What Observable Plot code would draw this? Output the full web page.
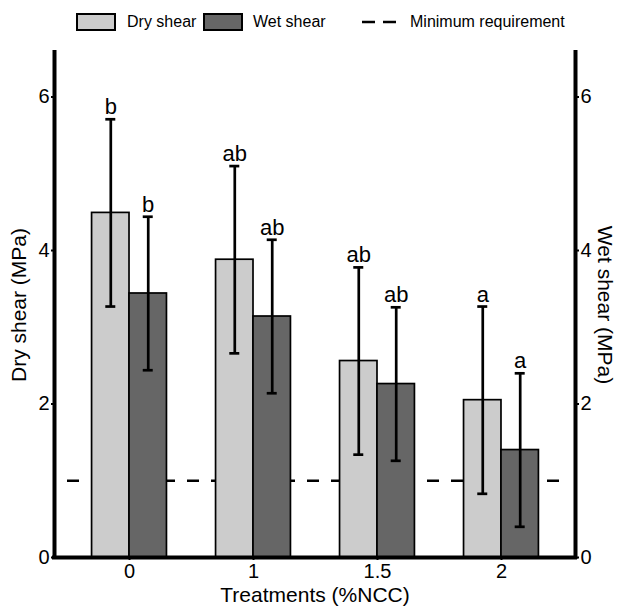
<!DOCTYPE html>
<html>
<head>
<meta charset="utf-8">
<script src="https://cdn.jsdelivr.net/npm/d3@7"></script>
<script src="https://cdn.jsdelivr.net/npm/@observablehq/plot@0.6"></script>
<style>
  html, body { margin: 0; padding: 0; background: white; overflow: hidden; }
  body { width: 624px; font-family: "Liberation Sans", Arial, sans-serif; }
  #legend { position: relative; height: 40px; font-size: 16px; color: black; }
  #legend .sw { position: absolute; top: 13px; width: 40px; height: 18px; box-sizing: border-box; border: 2.3px solid black; }
  #legend .lab { position: absolute; top: 22px; transform: translateY(-50%); line-height: 1; white-space: nowrap; }
  #legend svg { position: absolute; top: 13px; }
</style>
</head>
<body>
<div id="legend"></div>
<div id="chart"></div>
<script>
// ---- data ----
const treatments = ["0", "1", "1.5", "2"];
const dryMean = [4.49, 3.88, 2.56, 2.05];
const dryErr  = [1.22, 1.22, 1.22, 1.22];
const wetMean = [3.44, 3.14, 2.26, 1.40];
const wetErr  = [1.00, 1.00, 1.00, 1.00];
const dryLetters = ["b", "ab", "ab", "a"];
const wetLetters = ["b", "ab", "ab", "a"];
const minRequirement = 1;
const yTicks = [0, 2, 4, 6];
const seriesNames = ["Dry shear", "Wet shear"];
const seriesColors = ["#cccccc", "#666666"];

// ---- layout ----
const barW = 0.302;
const xDomain = [-0.605, treatments.length - 1 + 0.597];

const rows = treatments.flatMap((t, i) => [
  {i, t, s: 0, mean: dryMean[i], err: dryErr[i], letter: dryLetters[i]},
  {i, t, s: 1, mean: wetMean[i], err: wetErr[i], letter: wetLetters[i]}
]);
const left = d => d.s === 0 ? d.i - barW : d.i;
const right = d => d.s === 0 ? d.i : d.i + barW;
const center = d => d.s === 0 ? d.i - barW / 2 : d.i + barW / 2;
const hi = d => d.mean + d.err;
const lo = d => d.mean - d.err;

// legend
const legend = document.getElementById("legend");
legend.innerHTML = `
  <div class="sw" style="left:76px;background:${seriesColors[0]}"></div>
  <div class="lab" style="left:127px">${seriesNames[0]}</div>
  <div class="sw" style="left:203px;background:${seriesColors[1]}"></div>
  <div class="lab" style="left:253px">${seriesNames[1]}</div>
  <svg width="34" height="18" style="left:362px"><line x1="0" x2="34" y1="9" y2="9" stroke="black" stroke-width="2.7" stroke-dasharray="13,8"/></svg>
  <div class="lab" style="left:410px">Minimum requirement</div>`;

const chart = Plot.plot({
  width: 624,
  height: 567,
  marginTop: 12,
  marginBottom: 50,
  marginLeft: 54,
  marginRight: 49,
  style: {fontFamily: "'Liberation Sans', Arial, sans-serif", background: "white", color: "black"},
  x: {type: "linear", domain: xDomain, axis: null},
  y: {domain: [0, 6.58], axis: null},
  marks: [
    Plot.ruleY([minRequirement], {stroke: "black", strokeWidth: 2.5, strokeDasharray: "12,12", insetLeft: 13, insetRight: 16}),
    Plot.rectY(rows, {x1: left, x2: right, y1: 0, y2: "mean", fill: d => seriesColors[d.s], stroke: "black", strokeWidth: 1.7}),
    Plot.ruleX(rows, {x: center, y1: lo, y2: hi, stroke: "black", strokeWidth: 2.7}),
    Plot.ruleY(rows, {x1: center, x2: center, y: hi, insetLeft: -5, insetRight: -5, stroke: "black", strokeWidth: 2.7}),
    Plot.ruleY(rows, {x1: center, x2: center, y: lo, insetLeft: -5, insetRight: -5, stroke: "black", strokeWidth: 2.7}),
    Plot.text(rows, {x: center, y: hi, text: "letter", dy: -5, lineAnchor: "bottom", fontSize: 22, fill: "black"}),
    Plot.axisY({ticks: yTicks, tickFormat: d3.format("d"), anchor: "left", tickSize: 3, tickPadding: 2, fontSize: 20, label: null, strokeWidth: 2}),
    Plot.axisY({ticks: yTicks, tickFormat: d3.format("d"), anchor: "right", tickSize: 3, tickPadding: 2, fontSize: 20, label: null, strokeWidth: 2}),
    Plot.axisX({ticks: d3.range(treatments.length), tickFormat: i => treatments[i], tickSize: 3, tickPadding: 3, fontSize: 20, label: null, strokeWidth: 2}),
    Plot.ruleX(xDomain, {stroke: "black", strokeWidth: 4, strokeLinecap: "square"}),
    Plot.ruleY([0], {stroke: "black", strokeWidth: 4, strokeLinecap: "square"}),
    Plot.text(["Dry shear (MPa)"], {frameAnchor: "left", textAnchor: "middle", rotate: -90, dx: -35, fontSize: 21, fill: "black"}),
    Plot.text(["Wet shear (MPa)"], {frameAnchor: "right", textAnchor: "middle", rotate: 90, dx: 29, fontSize: 21, fill: "black"}),
    Plot.text(["Treatments (%NCC)"], {frameAnchor: "bottom", dy: 44, lineAnchor: "bottom", fontSize: 21, fill: "black"})
  ]
});
document.getElementById("chart").appendChild(chart);
</script>
</body>
</html>
